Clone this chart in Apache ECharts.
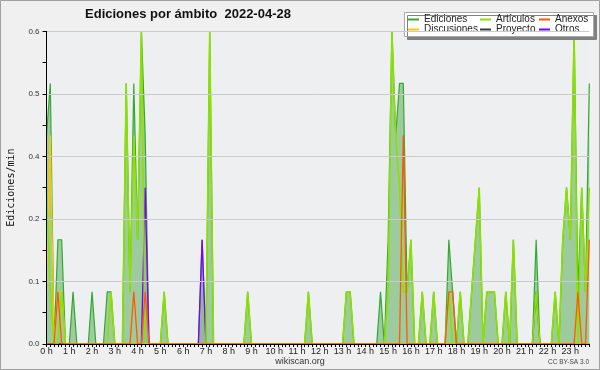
<!DOCTYPE html>
<html><head><meta charset="utf-8">
<script src="https://cdn.jsdelivr.net/npm/echarts@6/dist/echarts.min.js"></script>
<style>html,body{margin:0;padding:0;background:#f0f0f0}#c{width:600px;height:370px}</style>
</head><body><div id="c"></div>
<script>
// Tick labels (one per hour); data points are 10-minute intervals (6 per hour)
const hourLabels = ['0 h','1 h','2 h','3 h','4 h','5 h','6 h','7 h','8 h','9 h','10 h','11 h',
  '12 h','13 h','14 h','15 h','16 h','17 h','18 h','19 h','20 h','21 h','22 h','23 h'];
const yTicks = [0, 0.12, 0.24, 0.36, 0.48, 0.6];

// Ediciones/min per 10-minute slot, rows = hours
const ediciones = [
  0.4,0.5,0,0.2,0.2,0,   0,0.1,0,0,0,0,       0.1,0,0,0,0.1,0.1,   0,0,0,0.5,0.1,0.5,
  0.2,0.6,0.4,0,0,0,     0,0.1,0,0,0,0,       0,0,0,0,0,0.2,       0,0.6,0,0,0,0,
  0,0,0,0,0,0.1,         0,0,0,0,0,0,         0,0,0,0,0,0,         0,0,0,0.1,0,0,
  0,0,0,0,0,0,           0,0.1,0.1,0,0,0,     0,0,0,0,0.1,0,       0.2,0.6,0.4,0.5,0.5,0.1,
  0.2,0,0,0.1,0,0,       0.1,0,0,0,0.2,0.1,   0,0.1,0,0,0.1,0.2,   0.3,0,0.1,0.1,0.1,0,
  0,0.1,0,0.2,0,0,       0,0,0,0.2,0,0,       0,0,0.1,0,0.2,0.3,   0.2,0.6,0.1,0.3,0.1,0.5
];
const articulos = [
  0.3,0.1,0,0,0.1,0,     0,0,0,0,0,0,         0,0,0,0,0,0.1,       0,0,0,0.5,0.1,0.4,
  0.2,0.6,0,0,0,0,       0,0.1,0,0,0,0,       0,0,0,0,0,0,         0,0.6,0,0,0,0,
  0,0,0,0,0,0.1,         0,0,0,0,0,0,         0,0,0,0,0,0,         0,0,0,0.1,0,0,
  0,0,0,0,0,0,           0,0.1,0.1,0,0,0,     0,0,0,0,0,0,         0.1,0.6,0.4,0.3,0.1,0.1,
  0.2,0,0,0.1,0,0,       0.1,0,0,0,0.1,0,     0,0.1,0,0,0.1,0.2,   0.3,0,0.1,0.1,0.1,0,
  0,0.1,0,0.2,0,0,       0,0,0,0.1,0,0,       0,0,0.1,0,0.2,0.3,   0.2,0.6,0,0.3,0.1,0.3
];
const anexos = [
  0,0,0,0.1,0,0,         0,0,0,0,0,0,         0,0,0,0,0,0,         0,0,0,0,0,0.1,
  0,0,0.1,0,0,0,         0,0,0,0,0,0,         0,0,0,0,0,0,         0,0,0,0,0,0,
  0,0,0,0,0,0,           0,0,0,0,0,0,         0,0,0,0,0,0,         0,0,0,0,0,0,
  0,0,0,0,0,0,           0,0,0,0,0,0,         0,0,0,0,0,0,         0,0,0,0,0.4,0,
  0,0,0,0,0,0,           0,0,0,0,0.1,0.1,     0,0,0,0,0,0,         0,0,0,0,0,0,
  0,0,0,0,0,0,           0,0,0,0,0,0,         0,0,0,0,0,0,         0,0,0.1,0,0,0.2
];
const discusiones = [
  0.1,0.4,0,0.1,0.1,0,   0,0,0,0,0,0,         0,0,0,0,0,0,         0,0,0,0,0,0,
  0,0,0,0,0,0,           0,0,0,0,0,0,         0,0,0,0,0,0,         0,0,0,0,0,0,
  0,0,0,0,0,0,           0,0,0,0,0,0,         0,0,0,0,0,0,         0,0,0,0,0,0,
  0,0,0,0,0,0,           0,0,0,0,0,0,         0,0,0,0,0,0,         0,0,0,0,0,0,
  0,0,0,0,0,0,           0,0,0,0,0,0,         0,0,0,0,0,0,         0,0,0,0,0,0,
  0,0,0,0,0,0,           0,0,0,0,0,0,         0,0,0,0,0,0,         0,0,0,0,0,0
];
const proyecto = [
  0,0,0,0,0,0,           0,0,0,0,0,0,         0,0,0,0,0,0,         0,0,0,0,0,0,
  0,0,0,0,0,0,           0,0,0,0,0,0,         0,0,0,0,0,0,         0,0,0,0,0,0,
  0,0,0,0,0,0,           0,0,0,0,0,0,         0,0,0,0,0,0,         0,0,0,0,0,0,
  0,0,0,0,0,0,           0,0,0,0,0,0,         0,0,0,0,0,0,         0,0,0,0,0,0,
  0,0,0,0,0,0,           0,0,0,0,0,0,         0,0,0,0,0,0,         0,0,0,0,0,0,
  0,0,0,0,0,0,           0,0,0,0.1,0,0,       0,0,0,0,0,0,         0,0,0,0,0,0
];
const otros = [
  0,0,0,0,0,0,           0,0,0,0,0,0,         0,0,0,0,0,0,         0,0,0,0,0,0,
  0,0,0.3,0,0,0,         0,0,0,0,0,0,         0,0,0,0,0,0.2,       0,0,0,0,0,0,
  0,0,0,0,0,0,           0,0,0,0,0,0,         0,0,0,0,0,0,         0,0,0,0,0,0,
  0,0,0,0,0,0,           0,0,0,0,0,0,         0,0,0,0,0,0,         0,0,0,0,0,0,
  0,0,0,0,0,0,           0,0,0,0,0,0,         0,0,0,0,0,0,         0,0,0,0,0,0,
  0,0,0,0,0,0,           0,0,0,0,0,0,         0,0,0,0,0,0,         0,0,0,0,0,0
];

const categories = ediciones.map((_, i) => String(i));
const F = 'Liberation Sans, Arial, sans-serif';

const chart = echarts.init(document.getElementById('c'), null, {renderer: 'canvas'});
function lineSeries(name, data, color, width, extra) {
  return Object.assign({
    name, type: 'line', data, symbol: 'none', showSymbol: false,
    lineStyle: {color, width}, itemStyle: {color}, emphasis: {disabled: true}
  }, extra || {});
}
const legendBase = {
  orient: 'vertical', top: 14.5, itemWidth: 11, itemHeight: 2, itemGap: 0, icon: 'rect',
  padding: 0, selectedMode: false, z: 5,
  textStyle: {fontFamily: F, fontSize: 10, color: '#222', lineHeight: 10, padding: 0}
};
chart.setOption({
  animation: false,
  backgroundColor: '#f0f0f0',
  grid: {left: 46.5, right: 10.7, top: 31.3, bottom: 26, show: true,
         containLabel: false, outerBoundsMode: 'none',
         backgroundColor: '#edeff1', borderWidth: 0},
  xAxis: {
    type: 'category', data: categories, boundaryGap: false, z: 6,
    axisLine: {lineStyle: {color: '#000', width: 1}},
    axisTick: {show: true, interval: 0, length: 3, lineStyle: {color: '#000'}},
    axisLabel: {interval: 5, margin: 3, fontFamily: F, fontSize: 9, color: '#222',
      formatter: (v, idx) => hourLabels[Math.round(idx / 6)]},
    splitLine: {show: false}
  },
  yAxis: {
    type: 'value', min: yTicks[0], max: yTicks[yTicks.length - 1], interval: yTicks[1], z: 6,
    name: 'Ediciones/min', nameLocation: 'middle', nameRotate: 90, nameGap: 30,
    nameTextStyle: {fontFamily: 'DejaVu Sans Mono, monospace', fontSize: 10, color: '#111'},
    axisLine: {show: true, lineStyle: {color: '#000', width: 1}},
    axisTick: {show: true, length: 4, lineStyle: {color: '#000'}},
    minorTick: {show: true, splitNumber: 2, length: 4, lineStyle: {color: '#000'}},
    axisLabel: {margin: 7, fontFamily: F, fontSize: 8, color: '#333',
      formatter: v => v.toFixed(1)},
    splitLine: {show: true, lineStyle: {color: '#cbcbcb', width: 1}}
  },
  legend: [
    Object.assign({left: 408, data: ['Ediciones', 'Discusiones']}, legendBase),
    Object.assign({left: 480, data: ['Artículos', 'Proyecto']}, legendBase),
    Object.assign({left: 539, data: ['Anexos', 'Otros']}, legendBase)
  ],
  graphic: [
    {type: 'rect', z: 4, shape: {x: 404.5, y: 12.5, width: 189, height: 24},
     style: {fill: '#ffffff', stroke: '#a8a8a8', lineWidth: 1,
             shadowColor: '#808080', shadowOffsetX: 3, shadowOffsetY: 3, shadowBlur: 0}},
    {type: 'text', z: 5, style: {text: 'Ediciones por ámbito  2022-04-28', x: 188, y: 14,
      align: 'center', verticalAlign: 'middle', textAlign: 'center', textVerticalAlign: 'middle',
      font: 'bold 13px Liberation Sans, Arial, sans-serif', fill: '#111'}},
    {type: 'text', z: 5, style: {text: 'wikiscan.org', x: 300, y: 362,
      align: 'center', verticalAlign: 'middle', textAlign: 'center', textVerticalAlign: 'middle',
      font: '9px Liberation Sans, Arial, sans-serif', fill: '#333'}},
    {type: 'text', z: 5, style: {text: 'CC BY-SA 3.0', x: 589, y: 362.5,
      align: 'right', verticalAlign: 'middle', textAlign: 'right', textVerticalAlign: 'middle',
      font: '6.5px Liberation Sans, Arial, sans-serif', fill: '#444'}},
    {type: 'rect', z: 10, silent: true, shape: {x: 0.5, y: 0.5, width: 599, height: 369},
     style: {fill: 'none', stroke: '#a0a0a0', lineWidth: 1}}
  ],
  series: [
    lineSeries('Ediciones', ediciones, '#33a833', 1.2,
      {areaStyle: {color: '#9dcb9d', opacity: 1}}),
    lineSeries('Otros', otros, '#7a00ff', 1.3,
      {areaStyle: {color: 'rgba(122,0,255,0.18)'}}),
    lineSeries('Proyecto', proyecto, '#3a3a3a', 1.2),
    lineSeries('Discusiones', discusiones, '#ffc800', 1.3),
    lineSeries('Artículos', articulos, '#8ee000', 1.6),
    lineSeries('Anexos', anexos, '#ff5a00', 1.3)
  ]
});
</script></body></html>
